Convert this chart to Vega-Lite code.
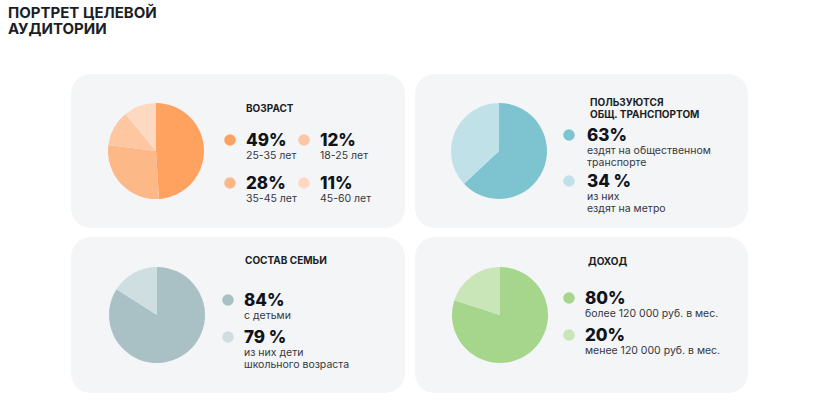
{
  "$schema": "https://vega.github.io/schema/vega-lite/v6.json",
  "background": "#ffffff",
  "padding": {"left": 8, "top": 5, "right": 0, "bottom": 0},
  "title": {
    "text": ["ПОРТРЕТ ЦЕЛЕВОЙ", "АУДИТОРИИ"],
    "anchor": "start",
    "dx": -63,
    "offset": 37,
    "font": "Inter",
    "fontSize": 15,
    "fontWeight": 700,
    "lineHeight": 16.5,
    "color": "#1b1e25"
  },
  "config": {
    "view": {"fill": "#f4f5f7", "stroke": null, "cornerRadius": 20},
    "font": "Inter",
    "text": {"font": "Inter"}
  },
  "datasets": {
    "slices": [
      {"panel": "age", "tone": "25-35", "share": 49},
      {"panel": "age", "tone": "35-45", "share": 28},
      {"panel": "age", "tone": "18-25", "share": 12},
      {"panel": "age", "tone": "45-60", "share": 11},
      {"panel": "transport", "tone": "main", "share": 63},
      {"panel": "transport", "tone": "rest", "share": 37},
      {"panel": "family", "tone": "main", "share": 84},
      {"panel": "family", "tone": "rest", "share": 16},
      {"panel": "income", "tone": "main", "share": 80},
      {"panel": "income", "tone": "rest", "share": 20}
    ],
    "items": [
      {"panel": "age", "tone": "25-35", "col": "c1", "row": "r1", "label": "49%", "caption": "25-35 лет"},
      {"panel": "age", "tone": "18-25", "col": "c2", "row": "r1", "label": "12%", "caption": "18-25 лет"},
      {"panel": "age", "tone": "35-45", "col": "c1", "row": "r2", "label": "28%", "caption": "35-45 лет"},
      {"panel": "age", "tone": "45-60", "col": "c2", "row": "r2", "label": "11%", "caption": "45-60 лет"},
      {"panel": "transport", "tone": "main", "col": "c1", "row": "r1", "label": "63%", "caption": "ездят на общественном\nтранспорте"},
      {"panel": "transport", "tone": "rest", "col": "c1", "row": "r2", "label": "34 %", "caption": "из них\nездят на метро"},
      {"panel": "family", "tone": "main", "col": "c1", "row": "r1", "label": "84%", "caption": "с детьми"},
      {"panel": "family", "tone": "rest", "col": "c1", "row": "r2", "label": "79 %", "caption": "из них дети\nшкольного возраста"},
      {"panel": "income", "tone": "main", "col": "c1", "row": "r1", "label": "80%", "caption": "более 120 000 руб. в мес."},
      {"panel": "income", "tone": "rest", "col": "c1", "row": "r2", "label": "20%", "caption": "менее 120 000 руб. в мес."}
    ],
    "headings": [
      {"panel": "age", "heading": "ВОЗРАСТ"},
      {"panel": "transport", "heading": "ПОЛЬЗУЮТСЯ\nОБЩ. ТРАНСПОРТОМ"},
      {"panel": "family", "heading": "СОСТАВ СЕМЬИ"},
      {"panel": "income", "heading": "ДОХОД"}
    ]
  },
  "spacing": 9,
  "resolve": {"scale": {"x": "independent", "y": "independent", "color": "independent", "theta": "independent"}},
  "vconcat": [
    {
      "spacing": 10,
      "resolve": {"scale": {"x": "independent", "y": "independent", "color": "independent", "theta": "independent"}},
      "hconcat": [
        {
          "width": 334,
          "height": 154,
          "layer": [
            {
              "data": {"name": "slices"},
              "transform": [{"filter": "datum.panel === 'age'"}],
              "mark": {"type": "arc", "radius": 48},
              "encoding": {
                "theta": {"field": "share", "type": "quantitative", "stack": true},
                "order": {"field": "share", "sort": "descending"},
                "color": {"field": "tone", "type": "nominal", "legend": null,
                  "scale": {"domain": ["25-35", "35-45", "18-25", "45-60"], "range": ["#ffa260", "#fdb887", "#fec7a2", "#fed9c1"]}},
                "x": {"datum": "pie", "type": "nominal", "axis": null,
                  "scale": {"type": "point", "domain": ["pie", "c1", "c2"], "range": [85, 233], "padding": 0}}
              }
            },
            {
              "data": {"name": "items"},
              "transform": [{"filter": "datum.panel === 'age'"}],
              "mark": {"type": "point", "filled": true, "size": 135, "opacity": 1},
              "encoding": {
                "x": {"field": "col", "type": "nominal", "axis": null},
                "y": {"field": "row", "type": "nominal", "axis": null,
                  "scale": {"type": "point", "domain": ["r1", "r2"], "range": [66, 109], "padding": 0}},
                "color": {"field": "tone", "type": "nominal", "legend": null}
              }
            },
            {
              "data": {"name": "items"},
              "transform": [{"filter": "datum.panel === 'age'"}],
              "mark": {"type": "text", "align": "left", "baseline": "alphabetic", "dx": 16, "dy": 6, "fontSize": 17, "fontWeight": 800, "color": "#10131a"},
              "encoding": {
                "x": {"field": "col", "type": "nominal", "axis": null},
                "y": {"field": "row", "type": "nominal", "axis": null},
                "text": {"field": "label"}
              }
            },
            {
              "data": {"name": "items"},
              "transform": [{"filter": "datum.panel === 'age'"}],
              "mark": {"type": "text", "align": "left", "baseline": "alphabetic", "dx": 16, "dy": 18.5, "fontSize": 10.5, "lineHeight": 12.5, "lineBreak": "\n", "color": "#34373e"},
              "encoding": {
                "x": {"field": "col", "type": "nominal", "axis": null},
                "y": {"field": "row", "type": "nominal", "axis": null},
                "text": {"field": "caption"}
              }
            },
            {
              "data": {"name": "headings"},
              "transform": [{"filter": "datum.panel === 'age'"}],
              "mark": {"type": "text", "align": "left", "baseline": "middle", "dx": 16, "dy": -31, "fontSize": 10, "fontWeight": 700, "lineHeight": 12.5, "lineBreak": "\n", "color": "#1b1e25"},
              "encoding": {
                "x": {"datum": "c1", "type": "nominal", "axis": null},
                "y": {"datum": "r1", "type": "nominal", "axis": null},
                "text": {"field": "heading"}
              }
            }
          ]
        },
        {
          "width": 333,
          "height": 154,
          "layer": [
            {
              "data": {"name": "slices"},
              "transform": [{"filter": "datum.panel === 'transport'"}],
              "mark": {"type": "arc", "radius": 48},
              "encoding": {
                "theta": {"field": "share", "type": "quantitative", "stack": true},
                "order": {"field": "share", "sort": "descending"},
                "color": {"field": "tone", "type": "nominal", "legend": null,
                  "scale": {"domain": ["main", "rest"], "range": ["#7ec4d0", "#bfe1e7"]}},
                "x": {"datum": "pie", "type": "nominal", "axis": null,
                  "scale": {"type": "point", "domain": ["pie", "c1"], "range": [84, 154], "padding": 0}}
              }
            },
            {
              "data": {"name": "items"},
              "transform": [{"filter": "datum.panel === 'transport'"}],
              "mark": {"type": "point", "filled": true, "size": 135, "opacity": 1},
              "encoding": {
                "x": {"field": "col", "type": "nominal", "axis": null},
                "y": {"field": "row", "type": "nominal", "axis": null,
                  "scale": {"type": "point", "domain": ["r1", "r2"], "range": [61, 107], "padding": 0}},
                "color": {"field": "tone", "type": "nominal", "legend": null}
              }
            },
            {
              "data": {"name": "items"},
              "transform": [{"filter": "datum.panel === 'transport'"}],
              "mark": {"type": "text", "align": "left", "baseline": "alphabetic", "dx": 18, "dy": 6, "fontSize": 17, "fontWeight": 800, "color": "#10131a"},
              "encoding": {
                "x": {"field": "col", "type": "nominal", "axis": null},
                "y": {"field": "row", "type": "nominal", "axis": null},
                "text": {"field": "label"}
              }
            },
            {
              "data": {"name": "items"},
              "transform": [{"filter": "datum.panel === 'transport'"}],
              "mark": {"type": "text", "align": "left", "baseline": "alphabetic", "dx": 18, "dy": 18.5, "fontSize": 10.5, "lineHeight": 12, "lineBreak": "\n", "color": "#34373e"},
              "encoding": {
                "x": {"field": "col", "type": "nominal", "axis": null},
                "y": {"field": "row", "type": "nominal", "axis": null},
                "text": {"field": "caption"}
              }
            },
            {
              "data": {"name": "headings"},
              "transform": [{"filter": "datum.panel === 'transport'"}],
              "mark": {"type": "text", "align": "left", "baseline": "middle", "dx": 21, "dy": -32.5, "fontSize": 10, "fontWeight": 700, "lineHeight": 12.5, "lineBreak": "\n", "color": "#1b1e25"},
              "encoding": {
                "x": {"datum": "c1", "type": "nominal", "axis": null},
                "y": {"datum": "r1", "type": "nominal", "axis": null},
                "text": {"field": "heading"}
              }
            }
          ]
        }
      ]
    },
    {
      "spacing": 10,
      "resolve": {"scale": {"x": "independent", "y": "independent", "color": "independent", "theta": "independent"}},
      "hconcat": [
        {
          "width": 334,
          "height": 156,
          "layer": [
            {
              "data": {"name": "slices"},
              "transform": [{"filter": "datum.panel === 'family'"}],
              "mark": {"type": "arc", "radius": 48},
              "encoding": {
                "theta": {"field": "share", "type": "quantitative", "stack": true},
                "order": {"field": "share", "sort": "descending"},
                "color": {"field": "tone", "type": "nominal", "legend": null,
                  "scale": {"domain": ["main", "rest"], "range": ["#a9c1c5", "#cfdee0"]}},
                "x": {"datum": "pie", "type": "nominal", "axis": null,
                  "scale": {"type": "point", "domain": ["pie", "c1"], "range": [86, 157], "padding": 0}}
              }
            },
            {
              "data": {"name": "items"},
              "transform": [{"filter": "datum.panel === 'family'"}],
              "mark": {"type": "point", "filled": true, "size": 135, "opacity": 1},
              "encoding": {
                "x": {"field": "col", "type": "nominal", "axis": null},
                "y": {"field": "row", "type": "nominal", "axis": null,
                  "scale": {"type": "point", "domain": ["r1", "r2"], "range": [63, 100], "padding": 0}},
                "color": {"field": "tone", "type": "nominal", "legend": null}
              }
            },
            {
              "data": {"name": "items"},
              "transform": [{"filter": "datum.panel === 'family'"}],
              "mark": {"type": "text", "align": "left", "baseline": "alphabetic", "dx": 16, "dy": 6, "fontSize": 17, "fontWeight": 800, "color": "#10131a"},
              "encoding": {
                "x": {"field": "col", "type": "nominal", "axis": null},
                "y": {"field": "row", "type": "nominal", "axis": null},
                "text": {"field": "label"}
              }
            },
            {
              "data": {"name": "items"},
              "transform": [{"filter": "datum.panel === 'family'"}],
              "mark": {"type": "text", "align": "left", "baseline": "alphabetic", "dx": 16, "dy": 18.5, "fontSize": 10.5, "lineHeight": 12.5, "lineBreak": "\n", "color": "#34373e"},
              "encoding": {
                "x": {"field": "col", "type": "nominal", "axis": null},
                "y": {"field": "row", "type": "nominal", "axis": null},
                "text": {"field": "caption"}
              }
            },
            {
              "data": {"name": "headings"},
              "transform": [{"filter": "datum.panel === 'family'"}],
              "mark": {"type": "text", "align": "left", "baseline": "middle", "dx": 17, "dy": -39, "fontSize": 10, "fontWeight": 700, "lineHeight": 12.5, "lineBreak": "\n", "color": "#1b1e25"},
              "encoding": {
                "x": {"datum": "c1", "type": "nominal", "axis": null},
                "y": {"datum": "r1", "type": "nominal", "axis": null},
                "text": {"field": "heading"}
              }
            }
          ]
        },
        {
          "width": 333,
          "height": 156,
          "layer": [
            {
              "data": {"name": "slices"},
              "transform": [{"filter": "datum.panel === 'income'"}],
              "mark": {"type": "arc", "radius": 48},
              "encoding": {
                "theta": {"field": "share", "type": "quantitative", "stack": true},
                "order": {"field": "share", "sort": "descending"},
                "color": {"field": "tone", "type": "nominal", "legend": null,
                  "scale": {"domain": ["main", "rest"], "range": ["#a6d68c", "#c8e6b7"]}},
                "x": {"datum": "pie", "type": "nominal", "axis": null,
                  "scale": {"type": "point", "domain": ["pie", "c1"], "range": [85, 154], "padding": 0}}
              }
            },
            {
              "data": {"name": "items"},
              "transform": [{"filter": "datum.panel === 'income'"}],
              "mark": {"type": "point", "filled": true, "size": 135, "opacity": 1},
              "encoding": {
                "x": {"field": "col", "type": "nominal", "axis": null},
                "y": {"field": "row", "type": "nominal", "axis": null,
                  "scale": {"type": "point", "domain": ["r1", "r2"], "range": [61, 98], "padding": 0}},
                "color": {"field": "tone", "type": "nominal", "legend": null}
              }
            },
            {
              "data": {"name": "items"},
              "transform": [{"filter": "datum.panel === 'income'"}],
              "mark": {"type": "text", "align": "left", "baseline": "alphabetic", "dx": 16, "dy": 6, "fontSize": 17, "fontWeight": 800, "color": "#10131a"},
              "encoding": {
                "x": {"field": "col", "type": "nominal", "axis": null},
                "y": {"field": "row", "type": "nominal", "axis": null},
                "text": {"field": "label"}
              }
            },
            {
              "data": {"name": "items"},
              "transform": [{"filter": "datum.panel === 'income'"}],
              "mark": {"type": "text", "align": "left", "baseline": "alphabetic", "dx": 16, "dy": 18.5, "fontSize": 10.5, "lineHeight": 12.5, "lineBreak": "\n", "color": "#34373e"},
              "encoding": {
                "x": {"field": "col", "type": "nominal", "axis": null},
                "y": {"field": "row", "type": "nominal", "axis": null},
                "text": {"field": "caption"}
              }
            },
            {
              "data": {"name": "headings"},
              "transform": [{"filter": "datum.panel === 'income'"}],
              "mark": {"type": "text", "align": "left", "baseline": "middle", "dx": 19, "dy": -36, "fontSize": 10, "fontWeight": 700, "lineHeight": 12.5, "lineBreak": "\n", "color": "#1b1e25"},
              "encoding": {
                "x": {"datum": "c1", "type": "nominal", "axis": null},
                "y": {"datum": "r1", "type": "nominal", "axis": null},
                "text": {"field": "heading"}
              }
            }
          ]
        }
      ]
    }
  ]
}
